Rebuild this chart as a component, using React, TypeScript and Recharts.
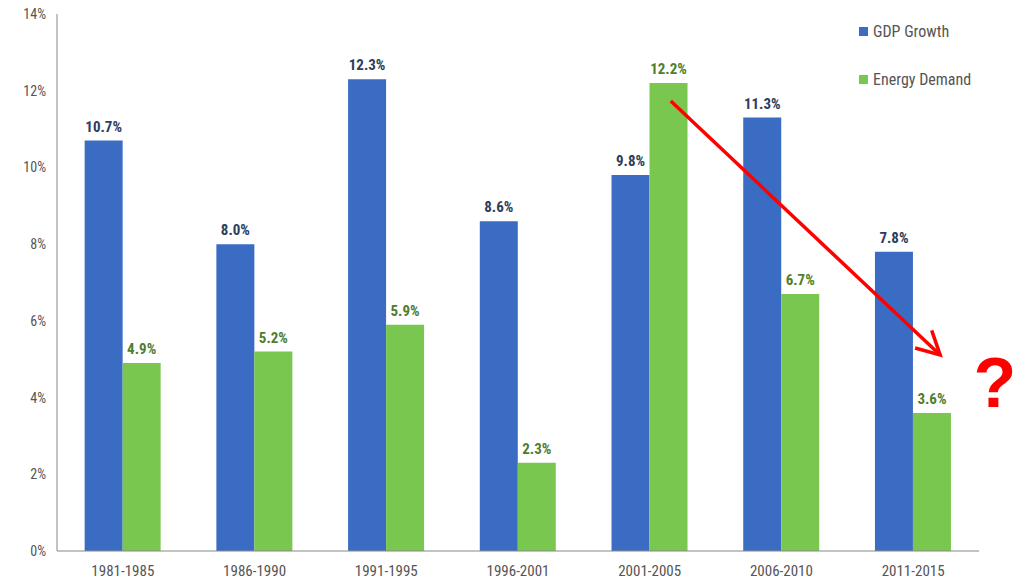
import React from 'react';
import { BarChart, Bar, XAxis, YAxis, LabelList, ReferenceLine } from 'recharts';

const periods = ['1981-1985', '1986-1990', '1991-1995', '1996-2001', '2001-2005', '2006-2010', '2011-2015'];
const gdpGrowth = [10.7, 8.0, 12.3, 8.6, 9.8, 11.3, 7.8];
const energyDemand = [4.9, 5.2, 5.9, 2.3, 12.2, 6.7, 3.6];
const yTicks = [0, 2, 4, 6, 8, 10, 12, 14];
const legendItems = ['GDP Growth', 'Energy Demand'];
// annotation arrow: anchored to categories, with an offset expressed as fraction of a category width
const arrowStart = { x: '2001-2005', y: 11.73, shift: 0.16 };
const arrowEnd = { x: '2011-2015', y: 5.11, shift: 0.205 };
const questionMark = { shift: 0.62, y: 3.75 };

const data = periods.map((p, i) => ({ period: p, gdp: gdpGrowth[i], energy: energyDemand[i] }));

const BLUE = '#3b6cc4';
const GREEN = '#7ac74f';
const FONT = '"Liberation Sans Narrow", "Arial Narrow", "Roboto Condensed", sans-serif';

const fmt = (v: number) => `${v.toFixed(1)}%`;

const ArrowShape = (props: any) => {
  const { x1, y1, x2, y2 } = props;
  const band = (x2 - x1) / (periods.indexOf(arrowEnd.x) - periods.indexOf(arrowStart.x));
  const sx = x1 + arrowStart.shift * band;
  const ex = x2 + arrowEnd.shift * band;
  const ppu = (y2 - y1) / (arrowStart.y - arrowEnd.y);
  const ang = Math.atan2(y2 - y1, ex - sx);
  const len = 26;
  const spread = Math.PI / 6.5;
  const a1x = ex - len * Math.cos(ang - spread);
  const a1y = y2 - len * Math.sin(ang - spread);
  const a2x = ex - len * Math.cos(ang + spread);
  const a2y = y2 - len * Math.sin(ang + spread);
  const qx = x2 + questionMark.shift * band;
  const qy = y2 + (arrowEnd.y - questionMark.y) * ppu;
  return (
    <g>
      <line x1={sx} y1={y1} x2={ex} y2={y2} stroke="#ff0000" strokeWidth={3.5} />
      <polyline points={`${a1x},${a1y} ${ex},${y2} ${a2x},${a2y}`} fill="none" stroke="#ff0000" strokeWidth={3.5} strokeLinejoin="miter" />
      <text x={qx} y={qy} textAnchor="middle" fill="#ff0000" fontSize={70} fontWeight="bold" fontFamily="Arial, Liberation Sans, sans-serif">?</text>
    </g>
  );
};

export default function App() {
  const colors = [BLUE, GREEN];
  return (
    <div style={{ position: 'absolute', left: 0, top: 0, background: '#fff', width: 1027, height: 580 }}>
      <BarChart
        width={1027}
        height={580}
        data={data}
        margin={{ top: 14, right: 48, left: 12, bottom: 4 }}
        barCategoryGap="21%"
        barGap={0}
      >
        <XAxis
          dataKey="period"
          axisLine={{ stroke: '#888' }}
          tickLine={false}
          height={25}
          tick={{ fill: '#555', fontSize: 15, fontFamily: FONT }}
          dy={6}
        />
        <YAxis
          domain={[0, 14]}
          ticks={yTicks}
          tickFormatter={(v: number) => `${v}%`}
          axisLine={{ stroke: '#888' }}
          tickLine={false}
          width={45}
          tick={{ fill: '#555', fontSize: 14, fontFamily: FONT }}
          interval={0}
          dx={-3}
        />
        <Bar dataKey="gdp" name="GDP Growth" fill={BLUE} isAnimationActive={false}>
          <LabelList dataKey="gdp" position="top" offset={9} formatter={fmt} fill="#2e3d5c" fontSize={15} fontWeight="bold" fontFamily={FONT} />
        </Bar>
        <Bar dataKey="energy" name="Energy Demand" fill={GREEN} isAnimationActive={false}>
          <LabelList dataKey="energy" position="top" offset={9} formatter={fmt} fill="#4f7d2e" fontSize={15} fontWeight="bold" fontFamily={FONT} />
        </Bar>
        <ReferenceLine
          segment={[{ x: arrowStart.x, y: arrowStart.y }, { x: arrowEnd.x, y: arrowEnd.y }]}
          shape={ArrowShape}
          ifOverflow="visible"
        />
      </BarChart>
      <div style={{ position: 'absolute', left: 859, top: 21, fontFamily: FONT, fontSize: 16, color: '#555' }}>
        {legendItems.map((name, i) => (
          <div key={name} style={{ display: 'flex', alignItems: 'center', height: 20, marginTop: i === 0 ? 0 : 28 }}>
            <span style={{ width: 9, height: 9, background: colors[i], display: 'inline-block', marginRight: 5 }} />
            {name}
          </div>
        ))}
      </div>
    </div>
  );
}
